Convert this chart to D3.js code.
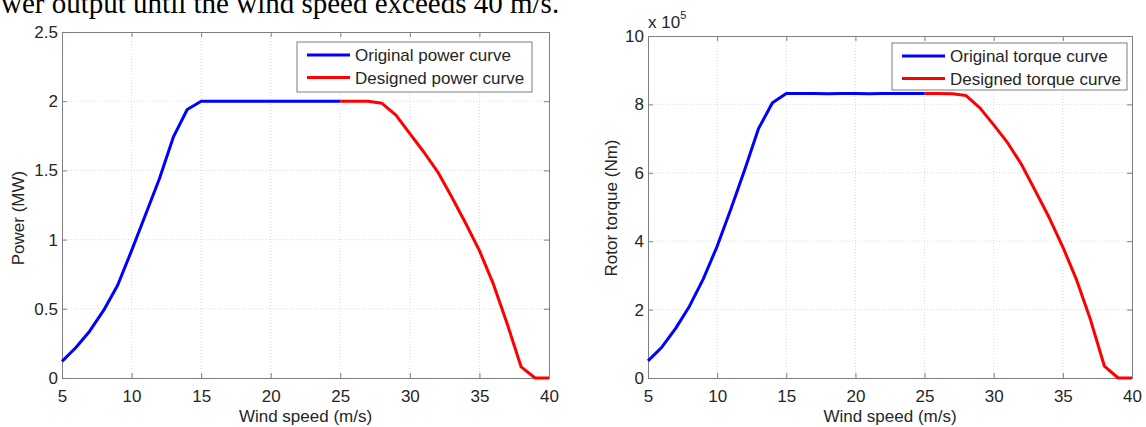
<!DOCTYPE html>
<html><head><meta charset="utf-8">
<script src="https://cdn.jsdelivr.net/npm/d3@7"></script>
<style>
html,body{margin:0;padding:0;background:#fff;}
svg{display:block;}
</style></head>
<body>
<svg id="c" width="1146" height="427"></svg>
<script>
const windOriginal = [5,6,7,8,9,10,11,12,13,14,15,16,17,18,19,20,21,22,23,24,25];
const windDesigned = [25,26,27,28,29,30,31,32,33,34,35,36,37,38,39,40];
const powerOriginal = [0.12,0.22,0.34,0.49,0.67,0.92,1.18,1.44,1.74,1.94,2.0,2.0,2.0,2.0,2.0,2.0,2.0,2.0,2.0,2.0,2.0];
const powerDesigned = [2.0,2.0,2.0,1.985,1.9,1.765,1.633,1.49,1.31,1.12,0.92,0.68,0.39,0.08,0,0];
const torqueOriginal = [0.5,0.9,1.45,2.1,2.9,3.85,4.95,6.1,7.3,8.05,8.32,8.32,8.32,8.31,8.32,8.32,8.31,8.32,8.32,8.32,8.32];
const torqueDesigned = [8.32,8.32,8.31,8.26,7.9,7.4,6.88,6.25,5.48,4.7,3.83,2.86,1.7,0.35,0,0];
const xTicks = [5,10,15,20,25,30,35,40];
const powerTicks = [0,0.5,1,1.5,2,2.5];
const powerTickLabels = ["0","0.5","1","1.5","2","2.5"];
const torqueTicks = [0,2,4,6,8,10];
const torqueTickLabels = ["0","2","4","6","8","10"];

const svg = d3.select("#c");
const FONT = "Liberation Sans, Arial, sans-serif";
const TXT = "#262626";
const FS = 17;

svg.append("text").attr("x", 1).attr("y", 13)
  .attr("font-family", "Liberation Serif, Times New Roman, serif")
  .attr("font-size", 29).attr("fill", "#000")
  .text("wer output until the wind speed exceeds 40 m/s.");

function panel(opt) {
  const g = svg.append("g");
  const x = d3.scaleLinear().domain([5, 40]).range([opt.x0, opt.x1]);
  const y = d3.scaleLinear().domain(opt.yDomain).range([opt.y1, opt.y0]);
  // grid
  g.selectAll(".gx").data(xTicks.slice(1, -1)).enter().append("line")
    .attr("x1", d => x(d)).attr("x2", d => x(d)).attr("y1", opt.y0).attr("y2", opt.y1)
    .attr("stroke", "#d9d9d9").attr("stroke-width", 1).attr("stroke-dasharray", "1,2");
  g.selectAll(".gy").data(opt.yTicks.slice(1, -1)).enter().append("line")
    .attr("y1", d => y(d)).attr("y2", d => y(d)).attr("x1", opt.x0).attr("x2", opt.x1)
    .attr("stroke", "#d9d9d9").attr("stroke-width", 1).attr("stroke-dasharray", "1,2");
  // axes with inward ticks
  const xb = d3.axisBottom(x).tickValues(xTicks).tickSize(-5).tickPadding(12).tickFormat(d3.format("d"));
  const xt = d3.axisTop(x).tickValues(xTicks).tickSize(-5).tickFormat("");
  const yl = d3.axisLeft(y).tickValues(opt.yTicks).tickSize(-5).tickPadding(4).tickFormat((d, i) => opt.yLabels[i]);
  const yr = d3.axisRight(y).tickValues(opt.yTicks).tickSize(-5).tickFormat("");
  const axes = [
    g.append("g").attr("transform", `translate(0,${opt.y1})`).call(xb),
    g.append("g").attr("transform", `translate(0,${opt.y0})`).call(xt),
    g.append("g").attr("transform", `translate(${opt.x0},0)`).call(yl),
    g.append("g").attr("transform", `translate(${opt.x1},0)`).call(yr)
  ];
  axes.forEach(a => {
    a.select(".domain").attr("stroke", "#7f7f7f");
    a.selectAll(".tick line").attr("stroke", "#7f7f7f");
    a.selectAll("text").attr("font-family", FONT).attr("font-size", FS).attr("fill", TXT);
  });
  axes[0].selectAll("text").attr("dy", "0.71em");
  // lines
  const line = d3.line().x(d => x(d[0])).y(d => y(d[1]));
  g.append("path").datum(windDesigned.map((w, i) => [w, opt.des[i]]))
    .attr("d", line).attr("fill", "none").attr("stroke", "#ff0000").attr("stroke-width", 3).attr("stroke-linejoin", "round");
  g.append("path").datum(windOriginal.map((w, i) => [w, opt.orig[i]]))
    .attr("d", line).attr("fill", "none").attr("stroke", "#0000ff").attr("stroke-width", 3).attr("stroke-linejoin", "round");
  // axis titles
  g.append("text").attr("x", (opt.x0 + opt.x1) / 2).attr("y", 422).attr("text-anchor", "middle")
    .attr("font-family", FONT).attr("font-size", FS).attr("fill", TXT).text("Wind speed (m/s)");
  g.append("text").attr("transform", `translate(${opt.ylx},${opt.yly}) rotate(-90)`).attr("text-anchor", "middle")
    .attr("font-family", FONT).attr("font-size", FS).attr("fill", TXT).text(opt.yTitle);
  // legend
  const L = opt.legend;
  g.append("rect").attr("x", L.x).attr("y", L.y).attr("width", L.w).attr("height", L.h)
    .attr("fill", "#fff").attr("stroke", "#7f7f7f").attr("stroke-width", 1);
  [["#0000ff", L.t1], ["#ff0000", L.t2]].forEach((it, i) => {
    const yy = L.y + 13 + i * 22.5;
    g.append("line").attr("x1", L.x + 10).attr("x2", L.x + 53).attr("y1", yy).attr("y2", yy)
      .attr("stroke", it[0]).attr("stroke-width", 3);
    g.append("text").attr("x", L.x + 58).attr("y", yy + 6).attr("font-family", FONT)
      .attr("font-size", FS).attr("fill", TXT).text(it[1]);
  });
  return g;
}

panel({x0: 62, x1: 549, y0: 32, y1: 378, yDomain: [0, 2.5], yTicks: powerTicks, yLabels: powerTickLabels,
  orig: powerOriginal, des: powerDesigned, yTitle: "Power (MW)", ylx: 24, yly: 218,
  legend: {x: 297, y: 42, w: 235, h: 50, t1: "Original power curve", t2: "Designed power curve"}});

panel({x0: 648, x1: 1132, y0: 36, y1: 378, yDomain: [0, 10], yTicks: torqueTicks, yLabels: torqueTickLabels,
  orig: torqueOriginal, des: torqueDesigned, yTitle: "Rotor torque (Nm)", ylx: 617, yly: 208,
  legend: {x: 892, y: 43, w: 235, h: 47, t1: "Original torque curve", t2: "Designed torque curve"}});

const exp = svg.append("text").attr("x", 648).attr("y", 28).attr("font-family", FONT).attr("font-size", FS).attr("fill", TXT);
exp.append("tspan").text("x 10");
exp.append("tspan").attr("dy", -9).attr("font-size", 11).text("5");
</script>
</body></html>
